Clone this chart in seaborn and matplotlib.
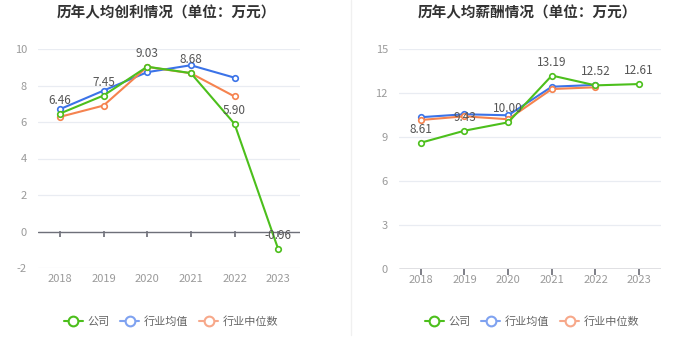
import matplotlib
matplotlib.use("Agg")
import matplotlib.pyplot as plt
import seaborn as sns
import pandas as pd
from matplotlib.lines import Line2D

years = ["2018", "2019", "2020", "2021", "2022", "2023"]
series_names = ["公司", "行业均值", "行业中位数"]

profit_company = [6.46, 7.45, 9.03, 8.68, 5.90, -0.96]
profit_avg = [6.70, 7.72, 8.73, 9.11, 8.43, None]
profit_median = [6.28, 6.90, 9.02, 8.67, 7.40, None]

salary_company = [8.61, 9.43, 10.00, 13.19, 12.52, 12.61]
salary_avg = [10.35, 10.55, 10.48, 12.43, 12.55, None]
salary_median = [10.16, 10.41, 10.21, 12.27, 12.39, None]

titles = ["历年人均创利情况（单位：万元）", "历年人均薪酬情况（单位：万元）"]

sns.set_theme(style="white")
plt.rcParams["font.family"] = ["Noto Sans CJK SC", "DejaVu Sans"]

colors = {"公司": "#4cbf1c", "行业均值": "#3b73e8", "行业中位数": "#f5834f"}
legend_colors = {"公司": "#4cbf1c", "行业均值": "#7fa2f0", "行业中位数": "#f7a88a"}


def long_df(company, avg, median):
    rows = []
    for name, vals in zip(series_names, [company, avg, median]):
        for y, v in zip(years, vals):
            if v is not None:
                rows.append({"year": y, "value": v, "series": name})
    df = pd.DataFrame(rows)
    df["x"] = df["year"].map({y: i for i, y in enumerate(years)})
    return df


fig = plt.figure(figsize=(7, 3.6), dpi=100)
axes = [fig.add_axes([38 / 700, 92 / 360, 262 / 700, 219 / 360]),
        fig.add_axes([399 / 700, 91 / 360, 262 / 700, 220 / 360])]

configs = [
    (long_df(profit_company, profit_avg, profit_median), profit_company, (-2, 10), [-2, 0, 2, 4, 6, 8, 10]),
    (long_df(salary_company, salary_avg, salary_median), salary_company, (0, 15), [0, 3, 6, 9, 12, 15]),
]

for ax, (df, comp, ylim, yticks), title in zip(axes, configs, titles):
    for name in ["行业均值", "行业中位数", "公司"]:
        sub = df[df["series"] == name]
        sns.lineplot(data=sub, x="x", y="value", ax=ax, color=colors[name],
                     linewidth=1.5, marker="o", markersize=4,
                     markerfacecolor="white", markeredgecolor=colors[name],
                     markeredgewidth=1.2, legend=False, zorder=3)
    for i, v in enumerate(comp):
        ax.annotate(f"{v:.2f}", (i, v), xytext=(0, 5), textcoords="offset points",
                    ha="center", va="bottom", fontsize=8.5, color="#555555", zorder=5)
    ax.set_xlim(-0.5, 5.5)
    ax.set_ylim(*ylim)
    ax.set_yticks(yticks)
    ax.set_yticklabels([str(t) for t in yticks])
    ax.set_xticks(range(len(years)))
    ax.set_xticklabels(years)
    ax.set_xlabel("")
    ax.set_ylabel("")
    ax.grid(axis="y", color="#e9ecf2", linewidth=0.9)
    ax.set_axisbelow(True)
    for s in ax.spines.values():
        s.set_visible(False)
    ax.tick_params(axis="both", length=0, labelsize=8, labelcolor="#9a9a9a", pad=4)
    ax.tick_params(axis="y", pad=8)
    ax.axhline(0, color="#6e7079", linewidth=1, zorder=2)
    zero_pos = (0 - ylim[0]) / (ylim[1] - ylim[0])
    sec = ax.secondary_xaxis(zero_pos)
    sec.set_xticks(range(len(years)))
    sec.tick_params(axis="x", direction="out", length=4, color="#6e7079", labelbottom=False, labeltop=False)
    for s in sec.spines.values():
        s.set_visible(False)
    sec.set_xticklabels([])
    bb = ax.get_position()
    fig.text(bb.x0 + bb.width / 2 - 3 / 700, 1 - 12 / 360, title, ha="center", va="center",
             fontsize=10.5, fontweight="bold", color="#333333")
    handles = [Line2D([0], [0], color=legend_colors[n], linewidth=1.5, marker="o", markersize=7,
                      markerfacecolor="white", markeredgecolor=legend_colors[n], markeredgewidth=1.5)
               for n in series_names]
    leg = fig.legend(handles, series_names, loc="center",
                     bbox_to_anchor=(bb.x0 + bb.width / 2 + 2 / 700, 1 - 322 / 360),
                     ncol=3, frameon=False, fontsize=8, handlelength=1.7,
                     handletextpad=0.4, columnspacing=1.0)
    for t in leg.get_texts():
        t.set_color("#666666")

fig.add_artist(Line2D([351 / 700, 351 / 700], [25 / 360, 1], color="#f0f0f0", linewidth=1))

fig.savefig("out.png", dpi=100, facecolor="white")
